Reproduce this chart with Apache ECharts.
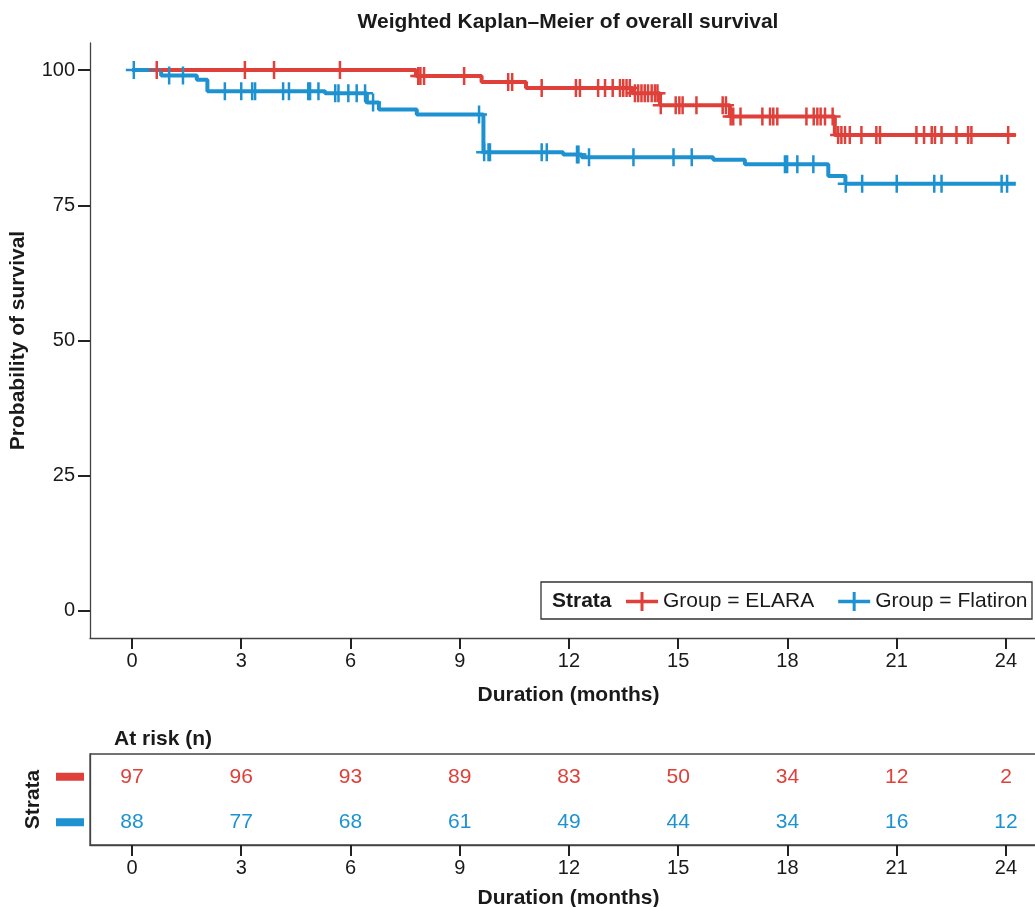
<!DOCTYPE html>
<html>
<head>
<meta charset="utf-8">
<script src="https://cdn.jsdelivr.net/npm/echarts@6/dist/echarts.min.js"></script>
<style>
html,body{margin:0;padding:0;background:#fff;}
#chart{width:1035px;height:907px;}
</style>
</head>
<body>
<div id="chart"></div>
<script>
// ---- data ----
const elaraTime = [0, 7.8, 9.6, 10.82, 13.75, 14.5, 16.42, 19.3, 24.27];
const elaraSurv = [100, 98.9, 97.8, 96.7, 95.7, 93.5, 91.4, 88.0, 88.0];
const flatironTime = [0, 0.8, 1.78, 2.07, 5.3, 6.45, 6.78, 7.82, 9.65, 11.84, 12.35, 15.96, 16.83, 19.12, 19.59, 24.27];
const flatironSurv = [100, 99.0, 98.2, 96.1, 95.7, 94.0, 92.7, 91.8, 84.8, 84.4, 83.9, 83.4, 82.6, 80.4, 79.0, 79.0];
const elaraCensor = [0.68, 3.10, 3.90, 5.71, 7.86, 7.92, 8.02, 9.12, 10.33, 10.44, 11.25, 12.19, 12.30, 12.80, 12.99, 13.20, 13.40, 13.49, 13.58, 13.67, 13.81, 13.90, 13.99, 14.08, 14.17, 14.27, 14.36, 14.43, 14.52, 14.93, 15.03, 15.12, 15.50, 16.22, 16.31, 16.44, 16.51, 16.71, 17.31, 17.52, 17.61, 17.72, 18.52, 18.72, 18.82, 18.91, 19.03, 19.24, 19.39, 19.48, 19.58, 19.71, 20.03, 20.44, 20.54, 21.54, 21.75, 21.96, 22.05, 22.23, 22.64, 22.96, 23.05, 24.06];
const flatironCensor = [0.05, 1.02, 1.40, 2.55, 3.00, 3.30, 3.38, 4.15, 4.31, 4.84, 4.89, 5.12, 5.58, 5.67, 5.94, 6.17, 6.40, 6.62, 9.53, 9.67, 9.79, 9.83, 11.25, 11.39, 12.22, 12.26, 12.55, 13.77, 14.87, 15.37, 17.93, 17.99, 18.27, 18.71, 19.60, 20.05, 21.00, 22.03, 22.23, 23.88, 24.03];
const riskTimes = [0, 3, 6, 9, 12, 15, 18, 21, 24];
const riskELARA = [97, 96, 93, 89, 83, 50, 34, 12, 2];
const riskFlatiron = [88, 77, 68, 61, 49, 44, 34, 16, 12];
const xTicks = [0, 3, 6, 9, 12, 15, 18, 21, 24];
const yTicks = [0, 25, 50, 75, 100];
const groups = ['Group = ELARA', 'Group = Flatiron'];

// ---- styles ----
const RED = '#DF403A';
const BLUE = '#1E92D1';
const AXIS = '#444';
const TXT = '#1a1a1a';
const FONT = '"Liberation Sans", Arial, Helvetica, sans-serif';
const XMIN = -1.1533, XMAX = 25.126;
const PLUS = 'path://M0,7.75h16v2.5h-16z M6.75,0h2.5v18h-2.5z';
const LEG_PLUS = 'path://M0,7.75h32v3.5h-32z M14.5,0h3v19h-3z';

function survAt(times, surv, t) {
  let s = surv[0];
  for (let i = 0; i < times.length; i++) if (times[i] <= t) s = surv[i];
  return s;
}
const zip = (a, b) => a.map((v, i) => [v, b[i]]);

const chart = echarts.init(document.getElementById('chart'), null, {renderer: 'canvas'});

const xAxisCommon = (gi, name, gap, lblMargin) => ({
  type: 'value', gridIndex: gi, min: XMIN, max: XMAX,
  name: name, nameLocation: 'middle', nameGap: gap,
  nameTextStyle: {fontFamily: FONT, fontSize: 21, fontWeight: 'bold', color: TXT},
  axisLine: {show: true, onZero: false, lineStyle: {color: AXIS, width: 1.3}},
  axisTick: {show: true, length: 11, lineStyle: {color: '#222', width: 2}, customValues: xTicks},
  axisLabel: {show: true, margin: lblMargin, fontFamily: FONT, fontSize: 20, color: TXT, customValues: xTicks},
  splitLine: {show: false}
});

const option = {
  animation: false,
  backgroundColor: '#fff',
  grid: [
    {left: 90, top: 43, width: 957, height: 595, containLabel: false, outerBoundsMode: 'none'},
    {left: 90, top: 754, width: 957, height: 91, containLabel: false, outerBoundsMode: 'none', show: true, borderColor: AXIS, borderWidth: 1.3, backgroundColor: 'transparent'}
  ],
  xAxis: [
    xAxisCommon(0, 'Duration (months)', 47, 13),
    xAxisCommon(1, 'Duration (months)', 43, 13)
  ],
  yAxis: [
    {
      type: 'value', gridIndex: 0, min: -5, max: 105,
      name: 'Probability of survival', nameLocation: 'middle', nameGap: 61, nameRotate: 90,
      nameTextStyle: {fontFamily: FONT, fontSize: 21, fontWeight: 'bold', color: TXT},
      axisLine: {show: true, onZero: false, lineStyle: {color: AXIS, width: 1.3}},
      axisTick: {show: true, length: 12, lineStyle: {color: '#222', width: 2}, customValues: yTicks},
      axisLabel: {show: true, margin: 15, fontFamily: FONT, fontSize: 20, color: TXT, customValues: yTicks},
      splitLine: {show: false}
    },
    {
      type: 'category', gridIndex: 1, data: ['Group = Flatiron', 'Group = ELARA'],
      name: 'Strata', nameLocation: 'middle', nameGap: 46, nameRotate: 90,
      nameTextStyle: {fontFamily: FONT, fontSize: 21, fontWeight: 'bold', color: TXT},
      axisLine: {show: true, onZero: false, lineStyle: {color: AXIS, width: 1.3}},
      axisTick: {show: false},
      axisLabel: {
        show: true, margin: 6,
        formatter: v => v === 'Group = ELARA' ? '{r|}' : '{b|}',
        rich: {
          r: {width: 28, height: 8, backgroundColor: RED},
          b: {width: 28, height: 8, backgroundColor: BLUE}
        }
      },
      splitLine: {show: false}
    }
  ],
  legend: {
    left: 626, top: 591, padding: 0, itemGap: 24, itemWidth: 32, itemHeight: 19,
    selectedMode: false,
    textStyle: {fontFamily: FONT, fontSize: 21, color: TXT, padding: [0, 0, 0, 0]},
    data: [
      {name: groups[0], icon: LEG_PLUS, itemStyle: {color: RED}},
      {name: groups[1], icon: LEG_PLUS, itemStyle: {color: BLUE}}
    ]
  },
  graphic: [
    {type: 'text', z: 10, x: 568, y: 22,
      style: {text: 'Weighted Kaplan\u2013Meier of overall survival', font: 'bold 21px ' + FONT, fill: TXT, textAlign: 'center', textVerticalAlign: 'middle'}},
    {type: 'rect', z: 3, shape: {x: 541, y: 582, width: 491, height: 37},
      style: {fill: '#fff', stroke: '#333', lineWidth: 1.3}},
    {type: 'text', z: 10, x: 552, y: 601,
      style: {text: 'Strata', font: 'bold 21px ' + FONT, fill: TXT, textVerticalAlign: 'middle'}},
    {type: 'text', z: 10, x: 114, y: 739,
      style: {text: 'At risk (n)', font: 'bold 21px ' + FONT, fill: TXT, textVerticalAlign: 'middle'}}
  ],
  series: [
    {
      name: groups[0], type: 'line', step: 'end', xAxisIndex: 0, yAxisIndex: 0,
      data: zip(elaraTime, elaraSurv), showSymbol: false, symbol: 'none',
      lineStyle: {color: RED, width: 4}, itemStyle: {color: RED}, z: 2
    },
    {
      name: groups[1], type: 'line', step: 'end', xAxisIndex: 0, yAxisIndex: 0,
      data: zip(flatironTime, flatironSurv), showSymbol: false, symbol: 'none',
      lineStyle: {color: BLUE, width: 4}, itemStyle: {color: BLUE}, z: 3
    },
    {
      name: 'ELARA censor', type: 'scatter', xAxisIndex: 0, yAxisIndex: 0,
      data: elaraCensor.map(t => [t, survAt(elaraTime, elaraSurv, t)]),
      symbol: PLUS, symbolSize: [16, 18], itemStyle: {color: RED, opacity: 1}, z: 4
    },
    {
      name: 'Flatiron censor', type: 'scatter', xAxisIndex: 0, yAxisIndex: 0,
      data: flatironCensor.map(t => [t, survAt(flatironTime, flatironSurv, t)]),
      symbol: PLUS, symbolSize: [16, 18], itemStyle: {color: BLUE, opacity: 1}, z: 5
    },
    {
      name: 'risk ELARA', type: 'scatter', xAxisIndex: 1, yAxisIndex: 1,
      data: riskTimes.map((t, i) => [t, 'Group = ELARA', riskELARA[i]]),
      symbolSize: 0, itemStyle: {opacity: 1},
      label: {show: true, position: 'inside', formatter: p => String(p.data[2]), fontFamily: FONT, fontSize: 21, color: RED, opacity: 1}
    },
    {
      name: 'risk Flatiron', type: 'scatter', xAxisIndex: 1, yAxisIndex: 1,
      data: riskTimes.map((t, i) => [t, 'Group = Flatiron', riskFlatiron[i]]),
      symbolSize: 0, itemStyle: {opacity: 1},
      label: {show: true, position: 'inside', formatter: p => String(p.data[2]), fontFamily: FONT, fontSize: 21, color: BLUE, opacity: 1}
    }
  ]
};
chart.setOption(option);
</script>
</body>
</html>
